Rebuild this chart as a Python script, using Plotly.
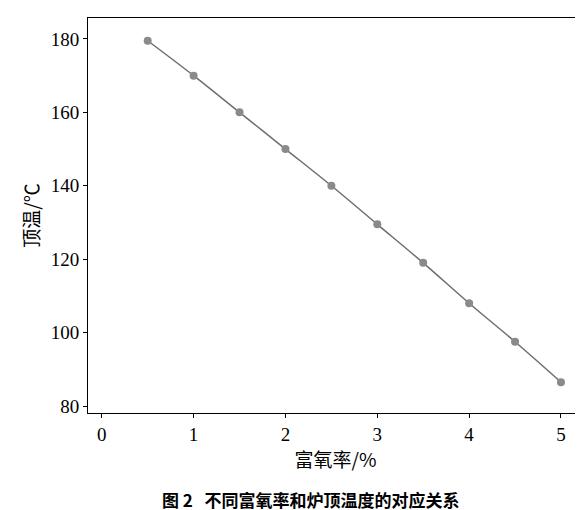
import plotly.graph_objects as go

oxygen = [0.5, 1, 1.5, 2, 2.5, 3, 3.5, 4, 4.5, 5]
temp = [179.5, 170, 160, 150, 140, 129.5, 119, 108, 97.5, 86.5]

fig = go.Figure()
fig.add_trace(go.Scatter(x=oxygen, y=temp, mode="lines+markers",
    line=dict(color="#6e6e6e", width=1.5, shape="spline"),
    marker=dict(color="#8a8a8a", size=8)))
ax = dict(showgrid=False, zeroline=False, showline=True, mirror=True, linecolor="black",
          linewidth=1, ticks="outside", ticklen=4, tickcolor="black", automargin=False,
          tickfont=dict(family="Liberation Serif", size=19, color="black"))
fig.update_layout(
    width=583, height=510, plot_bgcolor="white", paper_bgcolor="white", showlegend=False,
    margin=dict(l=80, r=8, t=10, b=105),
    xaxis=dict(range=[-0.15, 5.24], tickvals=[0,1,2,3,4,5], **ax,
               title=dict(text="富氧率/%", font=dict(family="Noto Sans CJK SC", size=19, color="black"), standoff=4)),
    yaxis=dict(range=[78.1, 185.7], tickvals=[80,100,120,140,160,180], **ax,
               title=dict(text="顶温/℃", font=dict(family="Noto Sans CJK SC", size=19, color="black"), standoff=6)),
)
fig.add_annotation(text="<b>图 2   不同富氧率和炉顶温度的对应关系</b>", xref="paper", yref="paper",
                   x=0.45, y=-0.22, xanchor="center", yanchor="middle", showarrow=False,
                   font=dict(family="Noto Sans CJK SC", size=17, color="black"))
fig.write_html("out.html")
